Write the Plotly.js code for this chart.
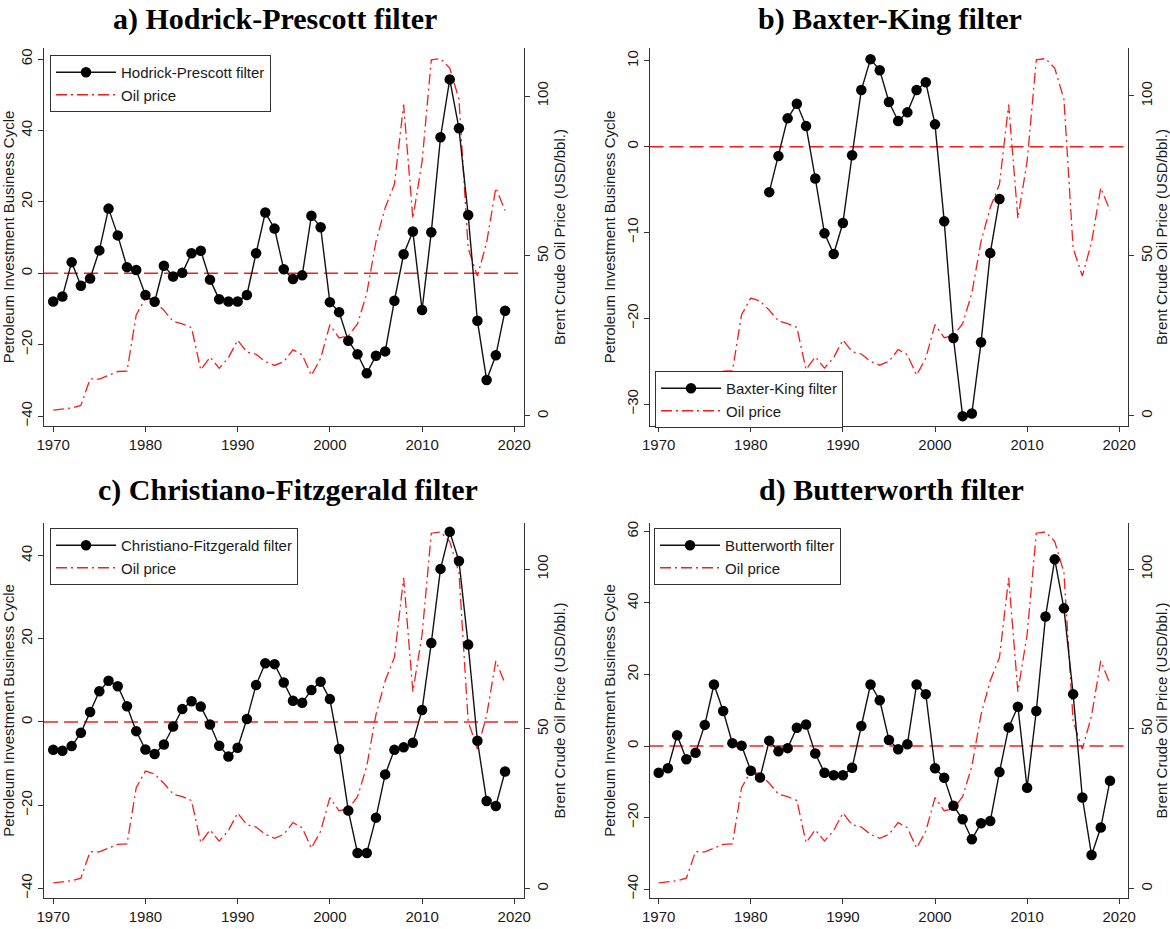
<!DOCTYPE html>
<html>
<head>
<meta charset="utf-8">
<script src="https://cdn.plot.ly/plotly-3.0.1.min.js"></script>
<style>
  html, body { margin: 0; padding: 0; background: #ffffff; }
  #chart { width: 1170px; height: 929px; }
</style>
</head>
<body>
<div id="chart"></div>
<script>
// Annual observations, 1970-2019
const years = [1970, 1971, 1972, 1973, 1974, 1975, 1976, 1977, 1978, 1979,
               1980, 1981, 1982, 1983, 1984, 1985, 1986, 1987, 1988, 1989,
               1990, 1991, 1992, 1993, 1994, 1995, 1996, 1997, 1998, 1999,
               2000, 2001, 2002, 2003, 2004, 2005, 2006, 2007, 2008, 2009,
               2010, 2011, 2012, 2013, 2014, 2015, 2016, 2017, 2018, 2019];

// Brent crude oil price, USD per barrel
const oilPrice = [1.8, 2.2, 2.5, 3.3, 11.6, 11.5, 12.8, 13.9, 14.0, 31.6,
                  36.8, 35.9, 33.0, 29.6, 28.8, 27.6, 14.4, 18.4, 14.9, 18.2,
                  23.7, 20.0, 19.3, 17.0, 15.8, 17.0, 20.7, 19.1, 12.7, 18.0,
                  28.5, 24.4, 25.0, 28.8, 38.3, 54.5, 65.1, 72.4, 97.3, 61.7,
                  79.5, 111.3, 111.7, 108.7, 99.0, 52.4, 43.7, 54.2, 71.3, 64.2];

// Petroleum investment cycle, Hodrick-Prescott filter
const hpCycle = [-7.9, -6.5, 3.1, -3.5, -1.5, 6.4, 18.1, 10.6, 1.7, 0.9,
                 -6.1, -8.0, 2.1, -0.9, 0.1, 5.6, 6.3, -1.8, -7.3, -7.9,
                 -7.9, -6.1, 5.6, 17.0, 12.5, 1.1, -1.6, -0.6, 16.1, 12.9,
                 -8.1, -10.9, -18.9, -22.7, -28.0, -23.1, -21.9, -7.7, 5.3, 11.7,
                 -10.3, 11.5, 38.1, 54.3, 40.6, 16.3, -13.3, -29.9, -23.0, -10.5];

// Baxter-King filter loses observations at both ends of the sample
const bkYears = [1982, 1983, 1984, 1985, 1986, 1987, 1988, 1989, 1990, 1991,
                 1992, 1993, 1994, 1995, 1996, 1997, 1998, 1999, 2000, 2001,
                 2002, 2003, 2004, 2005, 2006, 2007];
const bkCycle = [-5.3, -1.1, 3.3, 5.0, 2.4, -3.7, -10.1, -12.5, -8.9, -1.0,
                 6.6, 10.2, 8.9, 5.2, 3.0, 4.0, 6.6, 7.5, 2.6, -8.7,
                 -22.3, -31.4, -31.1, -22.8, -12.4, -6.1];

// Christiano-Fitzgerald filter
const cfCycle = [-6.7, -6.9, -5.8, -2.6, 2.4, 7.4, 9.9, 8.6, 3.8, -2.2,
                 -6.6, -7.7, -5.4, -1.1, 3.1, 5.0, 3.7, -0.6, -5.7, -8.3,
                 -6.2, 0.7, 8.9, 14.1, 13.9, 9.5, 5.1, 4.6, 7.7, 9.7,
                 5.5, -6.5, -21.3, -31.5, -31.5, -23.0, -12.6, -6.7, -6.1, -5.0,
                 2.9, 19.0, 36.8, 45.7, 38.7, 18.6, -4.5, -19.0, -20.2, -11.9];

// Butterworth filter
const bwCycle = [-7.5, -6.2, 3.0, -3.7, -1.9, 5.9, 17.2, 9.8, 0.8, 0.1,
                 -6.9, -8.8, 1.5, -1.5, -0.6, 5.1, 6.0, -2.1, -7.5, -8.2,
                 -8.2, -6.1, 5.6, 17.2, 12.8, 1.7, -0.9, 0.5, 17.2, 14.5,
                 -6.2, -8.9, -16.7, -20.5, -26.1, -21.6, -21.0, -7.3, 5.2, 11.0,
                 -11.7, 9.8, 36.2, 52.2, 38.5, 14.5, -14.4, -30.5, -22.8, -9.7];

const panelTitles = ['a) Hodrick-Prescott filter', 'b) Baxter-King filter',
                     'c) Christiano-Fitzgerald filter', 'd) Butterworth filter'];
const cycleNames = ['Hodrick-Prescott filter', 'Baxter-King filter',
                    'Christiano-Fitzgerald filter', 'Butterworth filter'];
const cycleX = [years, bkYears, years, years];
const cycleY = [hpCycle, bkCycle, cfCycle, bwCycle];

const W = 1170, H = 929;
const sans = 'Liberation Sans, Arial, sans-serif';
const red = '#ff1a1a';

// Panel geometry (pixels) and axis ranges
const panels = [
  { left: 44,    right: 523.5,  top: 48,    bottom: 426,   cyc: [-42.8, 63.1],   cdt: 20, oil: [-3.13, 115.0],
    title: { x: 275, y: 19 }, legend: { x: 50, y: 55 } },
  { left: 649.5, right: 1128.4, top: 48,    bottom: 426,   cyc: [-32.55, 11.5],  cdt: 10, oil: [-3.22, 115.0],
    title: { x: 890, y: 19 }, legend: { x: 655, y: 371 } },
  { left: 44,    right: 523.5,  top: 523.3, bottom: 897.7, cyc: [-42.24, 47.76], cdt: 20, oil: [-2.82, 114.4],
    title: { x: 288, y: 490 }, legend: { x: 50, y: 528 } },
  { left: 649.5, right: 1128.4, top: 523.3, bottom: 897.7, cyc: [-42.43, 62.29], cdt: 20, oil: [-2.82, 114.4],
    title: { x: 891, y: 490 }, legend: { x: 654, y: 528 } }
];

const data = [];
const layout = {
  width: W, height: H,
  margin: { l: 0, r: 0, t: 0, b: 0 },
  paper_bgcolor: '#ffffff', plot_bgcolor: '#ffffff',
  font: { family: sans, size: 14, color: '#1a1a1a' },
  hovermode: false,
  shapes: [], annotations: []
};

const axisCommon = {
  showgrid: false, zeroline: false, showline: true,
  linecolor: '#333333', linewidth: 1,
  ticks: 'outside', ticklen: 5, tickwidth: 1, tickcolor: '#333333',
  tickfont: { family: sans, size: 15, color: '#1a1a1a' },
  automargin: false, fixedrange: true
};

panels.forEach((p, i) => {
  const n = i + 1;
  const xName = n === 1 ? 'x' : 'x' + n;
  const oilAxis = 'y' + (2 * n - 1 === 1 ? '' : (2 * n - 1));
  const cycAxis = 'y' + (2 * n);
  const legName = n === 1 ? 'legend' : 'legend' + n;
  const xDom = [p.left / W, p.right / W];
  const yDom = [1 - p.bottom / H, 1 - p.top / H];

  layout[n === 1 ? 'xaxis' : 'xaxis' + n] = Object.assign({}, axisCommon, {
    domain: xDom, range: [1969, 2021], tickvals: [1970, 1980, 1990, 2000, 2010, 2020],
    anchor: oilAxis
  });
  // Right axis: oil price (base layer)
  layout['yaxis' + (2 * n - 1 === 1 ? '' : (2 * n - 1))] = Object.assign({}, axisCommon, {
    domain: yDom, range: p.oil, dtick: 50, tick0: 0, side: 'right', anchor: xName,
    tickangle: -90,
    title: { text: 'Brent Crude Oil Price (USD/bbl.)', font: { family: sans, size: 15, color: '#1a1a1a' }, standoff: 4 }
  });
  // Left axis: investment cycle (drawn on top)
  layout['yaxis' + (2 * n)] = Object.assign({}, axisCommon, {
    domain: yDom, range: p.cyc, dtick: p.cdt, tick0: 0, side: 'left', anchor: xName,
    overlaying: oilAxis, tickangle: -90,
    title: { text: 'Petroleum Investment Business Cycle', font: { family: sans, size: 15, color: '#1a1a1a' }, standoff: 4 }
  });

  data.push({
    type: 'scatter', mode: 'lines', name: 'Oil price',
    x: years, y: oilPrice, xaxis: xName, yaxis: oilAxis, legend: legName,
    line: { color: red, width: 1.3, dash: '11px,4px,2px,4px' }
  });
  data.push({
    type: 'scatter', mode: 'lines+markers', name: cycleNames[i],
    x: cycleX[i], y: cycleY[i], xaxis: xName, yaxis: cycAxis, legend: legName,
    line: { color: '#111111', width: 1.4 },
    marker: { color: '#000000', size: 10.5, symbol: 'circle' }
  });

  layout[legName] = {
    x: p.legend.x / W, y: 1 - p.legend.y / H, xanchor: 'left', yanchor: 'top',
    bgcolor: '#ffffff', bordercolor: '#333333', borderwidth: 1,
    font: { family: sans, size: 15, color: '#1a1a1a' },
    traceorder: 'reversed', itemwidth: 60, tracegroupgap: 0
  };

  // Reference line at zero on the cycle axis
  layout.shapes.push({
    type: 'line', xref: xName + ' domain', yref: cycAxis, layer: 'below',
    x0: 0, x1: 1, y0: 0, y1: 0,
    line: { color: red, width: 1.6, dash: '14px,6px' }
  });

  layout.annotations.push({
    text: '<b>' + panelTitles[i] + '</b>', showarrow: false,
    xref: 'paper', yref: 'paper', x: p.title.x / W, y: 1 - p.title.y / H,
    xanchor: 'center', yanchor: 'middle',
    font: { family: 'Liberation Serif, Times New Roman, serif', size: 30, color: '#000000' }
  });
});

Plotly.newPlot('chart', data, layout, { staticPlot: true, displayModeBar: false });
</script>
</body>
</html>
